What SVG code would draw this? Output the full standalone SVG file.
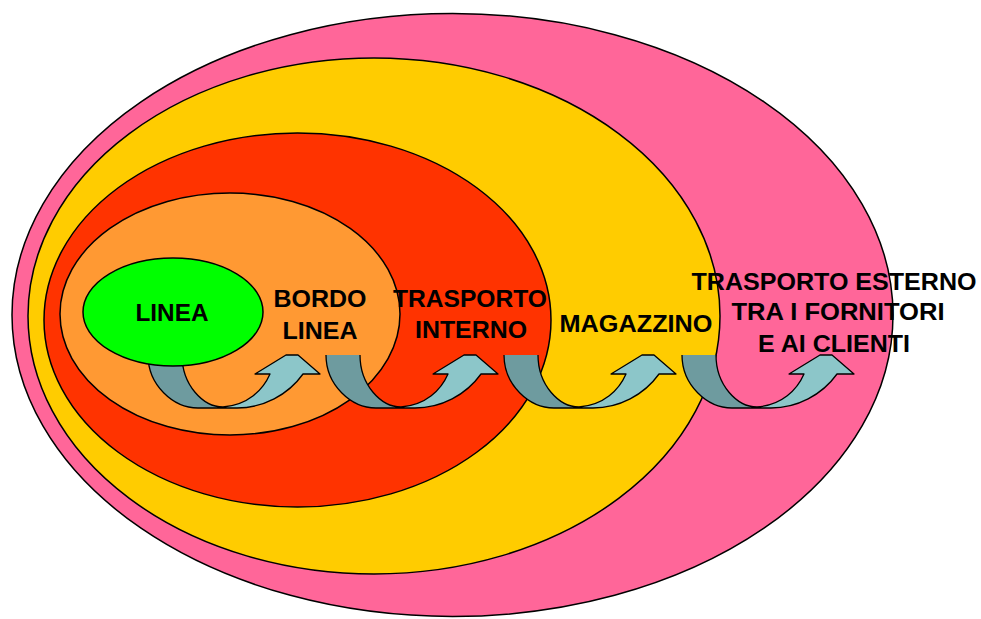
<svg xmlns="http://www.w3.org/2000/svg" xmlns:xlink="http://www.w3.org/1999/xlink" width="981" height="619" viewBox="0 0 981 619">
<style>
.ring{stroke:#000;stroke-width:1.5}
.lbl{font-family:"Liberation Sans",Arial,sans-serif;font-weight:bold;font-size:23px;fill:#000;text-anchor:middle}
.dark{fill:#6E9B9F}
.light{fill:#8CC6C9}
.outl{fill:none;stroke:#000;stroke-width:1.3;stroke-linejoin:round}
</style>
<defs>
<g id="uarrow">
<path class="dark" d="M0,355 C0,385 25,408 50,408 L76,408 L76,407 C55,407 34,385 34,355 Z"/>
<path class="light" d="M75,407 L75,408 L89,408 C115,408 140,395 155,374 L172,374 L150,355 L138,355 L107,374 L122,374 C115,390 100,405 75,407 Z"/>
<path class="outl" d="M0,355 C0,385 25,408 50,408 L89,408 C115,408 140,395 155,374 L172,374 L150,355 L138,355 L107,374 L122,374 C115,390 100,405 75,407 C55,407 34,385 34,355"/>
</g>
</defs>
<rect width="981" height="619" fill="#fff"/>
<g id="esterno"><ellipse class="ring" cx="452.5" cy="315" rx="440.5" ry="301.5" fill="#FF6699"/></g>
<g id="magazzino"><ellipse class="ring" cx="374" cy="316" rx="346" ry="258" fill="#FFCC00"/></g>
<g id="trasporto-interno"><ellipse class="ring" cx="297.5" cy="320" rx="253.5" ry="187" fill="#FF3300"/></g>
<g id="bordo-linea"><ellipse class="ring" cx="230" cy="314" rx="170" ry="121" fill="#FF9933"/></g>
<g id="connectors">
<use xlink:href="#uarrow" x="148"/>
<use xlink:href="#uarrow" x="326"/>
<use xlink:href="#uarrow" x="504"/>
<use xlink:href="#uarrow" x="682"/>
</g>
<g id="linea"><ellipse class="ring" cx="173" cy="312" rx="90" ry="54" fill="#00FF00"/>
<text class="lbl" x="172" y="321" textLength="73" lengthAdjust="spacingAndGlyphs">LINEA</text></g>
<g id="bordo-linea-label">
<text class="lbl" x="320" y="307" textLength="93" lengthAdjust="spacingAndGlyphs">BORDO</text>
<text class="lbl" x="320" y="339" textLength="75" lengthAdjust="spacingAndGlyphs">LINEA</text></g>
<g id="trasporto-interno-label">
<text class="lbl" x="470" y="307" textLength="154" lengthAdjust="spacingAndGlyphs">TRASPORTO</text>
<text class="lbl" x="471" y="338" textLength="112" lengthAdjust="spacingAndGlyphs">INTERNO</text></g>
<g id="magazzino-label">
<text class="lbl" x="636" y="332" textLength="153" lengthAdjust="spacingAndGlyphs">MAGAZZINO</text></g>
<g id="esterno-label">
<text class="lbl" x="834" y="290" textLength="285" lengthAdjust="spacingAndGlyphs">TRASPORTO ESTERNO</text>
<text class="lbl" x="838" y="320" textLength="213" lengthAdjust="spacingAndGlyphs">TRA I FORNITORI</text>
<text class="lbl" x="834" y="352" textLength="152" lengthAdjust="spacingAndGlyphs">E AI CLIENTI</text></g>
</svg>
